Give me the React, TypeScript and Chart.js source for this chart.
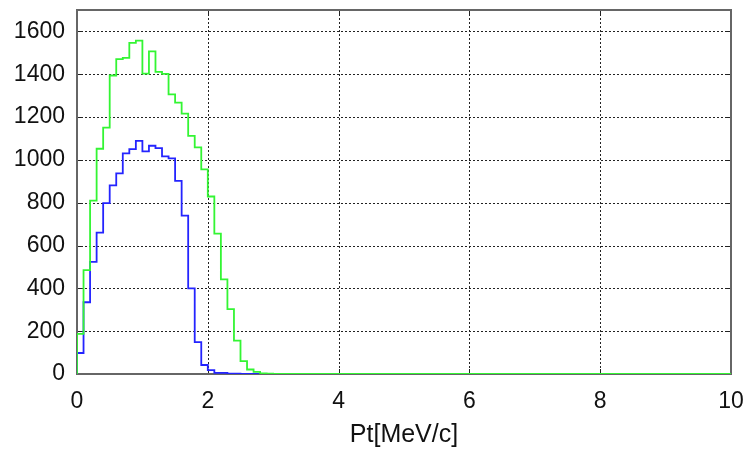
import React, { useEffect, useRef } from "react";
import { Chart, registerables } from "chart.js";

Chart.register(...registerables);

// Histogram bin width and axis ranges
const binWidth = 0.1;
const xMax = 10;
const yMax = 1700;
const xTickStep = 2;
const yTickStep = 200;
const yTickLast = 1600;

// Bin contents (bins start at 0, width 0.1 MeV/c)
const greenCounts = [187, 485, 810, 1052, 1151, 1394, 1471, 1476, 1546, 1557, 1403, 1507, 1411, 1402, 1306, 1267, 1216, 1112, 1058, 956, 829, 656, 442, 303, 156, 60, 21, 10, 3, 2, 1];
const blueCounts = [98, 335, 524, 660, 798, 881, 937, 1030, 1050, 1089, 1040, 1066, 1055, 1016, 1007, 902, 740, 400, 149, 42, 18, 5, 5, 2, 2, 1];

const xTitle = "Pt[MeV/c]";

function histPoints(counts: number[]) {
  const pts: { x: number; y: number }[] = [{ x: 0, y: 0 }];
  counts.forEach((v, i) => pts.push({ x: +(i * binWidth).toFixed(3), y: v }));
  pts.push({ x: +(counts.length * binWidth).toFixed(3), y: 0 });
  pts.push({ x: xMax, y: 0 });
  return pts;
}

const framePlugin = {
  id: "frame",
  beforeDatasetsDraw(chart: any) {
    const { ctx, chartArea: a, scales } = chart;
    ctx.save();
    // dotted grid
    ctx.strokeStyle = "#222";
    ctx.lineWidth = 1;
    ctx.setLineDash([2, 2]);
    scales.y.ticks.forEach((t: any) => {
      const y = Math.round(scales.y.getPixelForValue(t.value)) + 0.5;
      ctx.beginPath();
      ctx.moveTo(a.left, y);
      ctx.lineTo(a.right, y);
      ctx.stroke();
    });
    scales.x.ticks.forEach((t: any) => {
      const x = Math.round(scales.x.getPixelForValue(t.value)) + 0.5;
      ctx.beginPath();
      ctx.moveTo(x, a.top);
      ctx.lineTo(x, a.bottom);
      ctx.stroke();
    });
    // inward tick marks
    ctx.setLineDash([]);
    ctx.strokeStyle = "#222";
    const tl = 5;
    scales.y.ticks.forEach((t: any) => {
      const y = Math.round(scales.y.getPixelForValue(t.value)) + 0.5;
      ctx.beginPath();
      ctx.moveTo(a.left, y);
      ctx.lineTo(a.left + tl, y);
      ctx.moveTo(a.right, y);
      ctx.lineTo(a.right - tl, y);
      ctx.stroke();
    });
    scales.x.ticks.forEach((t: any) => {
      const x = Math.round(scales.x.getPixelForValue(t.value)) + 0.5;
      ctx.beginPath();
      ctx.moveTo(x, a.bottom);
      ctx.lineTo(x, a.bottom - tl);
      ctx.moveTo(x, a.top);
      ctx.lineTo(x, a.top + tl);
      ctx.stroke();
    });
    ctx.strokeStyle = "#666";
    ctx.lineWidth = 2;
    ctx.strokeRect(a.left, a.top, a.right - a.left, a.bottom - a.top);
    ctx.restore();
  },
};

const fontFamily = "'Liberation Sans', Arial, sans-serif";

export default function App() {
  const ref = useRef<HTMLCanvasElement | null>(null);
  useEffect(() => {
    if (!ref.current) return;
    const chart = new Chart(ref.current, {
      type: "line",
      data: {
        datasets: [
          {
            data: histPoints(greenCounts),
            borderColor: "#33f533",
            borderWidth: 1.8,
            stepped: "before",
            pointRadius: 0,
            fill: false,
          },
          {
            data: histPoints(blueCounts),
            borderColor: "#2424ff",
            borderWidth: 1.8,
            stepped: "before",
            pointRadius: 0,
            fill: false,
          },
        ],
      },
      options: {
        responsive: false,
        animation: false,
        layout: { padding: { left: 0, right: 18, top: 10, bottom: 0 } },
        plugins: { legend: { display: false }, tooltip: { enabled: false } },
        scales: {
          x: {
            type: "linear",
            min: 0,
            max: xMax,
            border: { display: false },
            grid: { drawOnChartArea: false, drawTicks: false },
            ticks: {
              stepSize: xTickStep,
              padding: 14,
              color: "#111",
              autoSkip: false,
              font: { family: fontFamily, size: 23 },
              maxRotation: 0,
              callback: (v: any) => String(v),
            },
            title: {
              display: true,
              text: xTitle,
              color: "#111",
              font: { family: fontFamily, size: 25, lineHeight: 1 },
              padding: { top: 1, bottom: 1 },
            },
            afterFit(scale: any) {
              scale.height = 75;
              scale.paddingLeft = 0;
              scale.paddingRight = 0;
            },
          },
          y: {
            min: 0,
            max: yMax,
            border: { display: false },
            grid: { drawOnChartArea: false, drawTicks: false },
            ticks: {
              stepSize: yTickStep,
              includeBounds: false,
              padding: 12,
              color: "#111",
              autoSkip: false,
              font: { family: fontFamily, size: 23 },
              callback: (v: any) => String(v),
            },
            afterBuildTicks(scale: any) {
              scale.ticks = scale.ticks.filter((t: any) => t.value <= yTickLast);
            },
            afterFit(scale: any) {
              scale.width = 77;
              scale.paddingTop = 0;
              scale.paddingBottom = 0;
            },
          },
        },
      },
      plugins: [framePlugin],
    } as any);
    return () => chart.destroy();
  }, []);
  return (
    <div style={{ position: "absolute", left: 0, top: 0, width: 749, height: 449, background: "#fff" }}>
      <canvas ref={ref} width={749} height={449} style={{ display: "block" }} />
    </div>
  );
}
